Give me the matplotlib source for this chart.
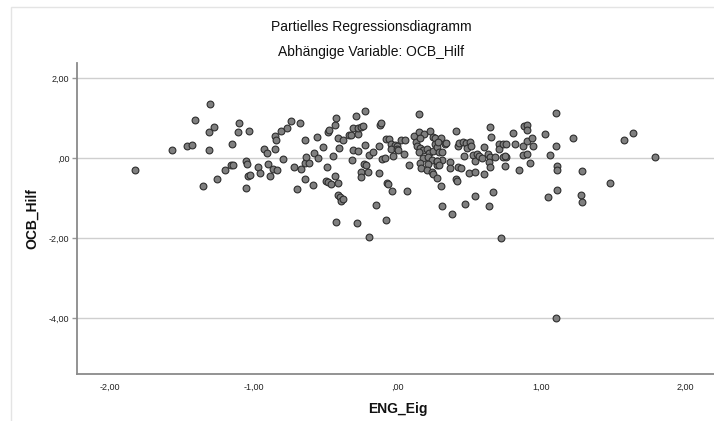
import matplotlib
matplotlib.use("Agg")
import matplotlib.pyplot as plt
from matplotlib.patches import Rectangle
from matplotlib.ticker import FixedLocator, FuncFormatter

# partial regression residuals (ENG_Eig, OCB_Hilf)
eng_eig = [
    -1.823, -1.564, -1.462, -1.429, -1.404, -1.300, -1.307, -1.276, -1.309, -1.349,
    -1.253, -1.198, -1.158, -1.142, -1.147, -1.103, -1.110, -1.033, -1.054, -1.047,
    -1.038, -1.024, -1.054, -0.971, -0.957, -0.925, -0.904, -0.899, -0.883, -0.867,
    -0.839, -0.853, -0.844, -0.849, -0.811, -0.797, -0.767, -0.742,
    -0.679, -0.644, -0.719, -0.670, -0.640, -0.615, -0.635, -0.642, -0.698, -0.589,
    -0.561, -0.578, -0.550, -0.519, -0.490, -0.497, -0.481, -0.464, -0.483, -0.476,
    -0.434, -0.425, -0.450, -0.434, -0.413, -0.406, -0.411, -0.381, -0.411, -0.399,
    -0.392, -0.381, -0.425, -0.339, -0.323, -0.309, -0.290, -0.274, -0.272, -0.253,
    -0.240, -0.228, -0.311, -0.274, -0.314, -0.224, -0.196, -0.168, -0.235, -0.219,
    -0.256, -0.205, -0.253, -0.281, -0.196, -0.147, -0.126,
    -0.122, -0.115, -0.126, -0.106, -0.087, -0.078, -0.071, -0.064, -0.040, 0.064,
    0.080, -0.080, -0.059, -0.043, -0.017, -0.001, -0.043, -0.006, -0.029, 0.006,
    0.026, 0.050, 0.047, 0.149,
    0.113, 0.147, 0.186, 0.224, 0.244, 0.263, 0.304, 0.330, 0.339, 0.126,
    0.156, 0.138, 0.156, 0.179, 0.207, 0.221, 0.244, 0.260, 0.274, 0.290,
    0.309, 0.283, 0.151, 0.175, 0.214, 0.242, 0.272, 0.307, 0.156, 0.163,
    0.214, 0.207, 0.242, 0.272, 0.276, 0.288, 0.249, 0.272, 0.302, 0.307,
    0.365, 0.365, 0.404, 0.418, 0.429, 0.453, 0.478, 0.485, 0.503, 0.513,
    0.464, 0.422, 0.439, 0.406, 0.413, 0.499, 0.540, 0.526, 0.550, 0.536,
    0.566, 0.467, 0.381, 0.540,
    0.601, 0.599, 0.587, 0.626, 0.642, 0.638, 0.642, 0.677, 0.731, 0.753,
    0.747, 0.640, 0.651, 0.707, 0.705, 0.735, 0.753, 0.744, 0.800, 0.818,
    0.844, 0.869, 0.869, 0.876, 0.897, 0.901, 0.901, 0.897, 0.934, 0.943,
    0.920, 1.022, 1.099, 1.099, 1.059, 1.108, 1.106, 1.219, 0.665, 0.633,
    1.045, 1.110, 0.717,
    1.283, 1.276, 1.281, 1.474, 1.573, 1.635, 1.790, 1.100,
]
ocb_hilf = [
    -0.290, 0.215, 0.315, 0.325, 0.958, 1.358, 0.658, 0.783, 0.215, -0.693,
    -0.518, -0.285, -0.175, -0.168, 0.358, 0.890, 0.665, 0.690, -0.060, -0.150,
    -0.443, -0.410, -0.735, -0.218, -0.375, 0.240, 0.125, -0.143, -0.450, -0.275,
    -0.300, 0.558, 0.458, 0.225, 0.675, -0.025, 0.758, 0.925,
    0.883, 0.458, -0.210, -0.275, -0.118, -0.125, 0.025, -0.510, -0.768, -0.668,
    0.525, 0.140, 0.008, 0.290, -0.210, -0.560, -0.600, -0.650, 0.650, 0.708,
    0.833, 1.000, 0.065, -0.435, -0.618, 0.250, 0.515, 0.458, -0.918, -0.968,
    -1.068, -1.025, -1.600, 0.583, 0.583, 0.758, 1.065, 0.608, 0.765, 0.783,
    0.800, 1.183, 0.208, 0.190, -0.050, 0.325, 0.083, 0.150, -0.143, -0.160,
    -0.335, -0.335, -0.460, -1.625, -1.975, -1.175, -0.375,
    0.833, 0.890, 0.308, -0.025, 0.015, -1.550, -0.610, -0.635, -0.810, -0.810,
    -0.175, 0.490, 0.490, 0.350, 0.333, 0.308, 0.240, 0.233, 0.058, 0.208,
    0.465, 0.465, 0.100, 1.108,
    0.565, 0.650, 0.615, 0.690, 0.525, 0.515, 0.500, 0.350, 0.383, 0.415,
    0.500, 0.315, 0.250, 0.208, 0.225, 0.125, 0.190, 0.350, 0.290, 0.150,
    0.165, 0.415, 0.165, 0.000, 0.025, -0.043, -0.060, -0.043, -0.125, -0.235,
    -0.150, -0.293, -0.350, -0.168, -0.068, -0.168, -0.385, -0.485, -0.693, -1.185,
    -0.085, -0.235, 0.683, 0.308, 0.375, 0.415, 0.390, 0.250, 0.400, 0.308,
    0.065, -0.210, -0.235, -0.525, -0.568, -0.375, -0.350, 0.083, 0.100, -0.060,
    0.058, -1.150, -1.393, -0.950,
    -0.385, 0.283, 0.008, 0.108, 0.040, -0.085, -0.225, 0.025, 0.025, 0.033,
    0.065, 0.775, 0.525, 0.358, 0.233, 0.350, 0.350, -0.200, 0.625, 0.358,
    -0.285, 0.308, 0.083, 0.815, 0.840, 0.708, 0.440, 0.108, 0.508, 0.308,
    -0.110, 0.615, 1.140, 0.315, 0.083, -0.185, -0.300, 0.515, -0.843, -1.200,
    -0.968, -0.800, -1.985,
    -0.325, -0.925, -1.100, -0.625, 0.450, 0.633, 0.040, -3.990,
]

x_ticks = [-2, -1, 0, 1, 2]
y_ticks = [-4, -2, 0, 2]


def spss_fmt(v, pos=None):
    # SPSS style: comma decimal, no leading zero for 0
    s = "{0:.2f}".format(v).replace(".", ",")
    if s in ("0,00", "-0,00"):
        return ",00"
    return s


plt.rcParams['font.family'] = ['Liberation Sans', 'DejaVu Sans']

fig = plt.figure(figsize=(7.14, 4.21), dpi=100)
fig.patch.set_facecolor('white')

# light outer frame of the SPSS chart
fig.patches.append(Rectangle((11 / 714, -0.05), 1.2, 1 - 7 / 421 + 0.05,
                             transform=fig.transFigure, fill=False,
                             edgecolor='#e4e4e4', linewidth=1.0))

ax = fig.add_axes([76.5 / 714, 47 / 421, 642 / 714, 311 / 421])
ax.set_xlim(-2.229, 2.229)
ax.set_ylim(-5.39, 2.38)

ax.xaxis.set_major_locator(FixedLocator(x_ticks))
ax.yaxis.set_major_locator(FixedLocator(y_ticks))
ax.xaxis.set_major_formatter(FuncFormatter(spss_fmt))
ax.yaxis.set_major_formatter(FuncFormatter(spss_fmt))

ax.yaxis.grid(True, color='#cfcfcf', linewidth=1.0)
ax.set_axisbelow(True)

for side in ('top', 'right'):
    ax.spines[side].set_visible(False)
for side in ('left', 'bottom'):
    ax.spines[side].set_color('#8a8a8a')
    ax.spines[side].set_linewidth(1.3)

ax.tick_params(axis='y', length=3.5, width=1.0, color='#9a9a9a', labelsize=6.5,
               labelcolor='#222222', pad=1.5)
ax.tick_params(axis='x', length=0, labelsize=6.5, labelcolor='#222222', pad=6)

ax.scatter(eng_eig, ocb_hilf, s=24, facecolor='#7f7f7f', edgecolor='#2e2e2e',
           linewidth=0.8, zorder=3)

ax.set_xlabel('ENG_Eig', fontsize=10, fontweight='bold', color='#111111', labelpad=8)
ax.set_ylabel('OCB_Hilf', fontsize=10, fontweight='bold', color='#111111', labelpad=7)

fig.text(371 / 714, 1 - 27 / 421, 'Partielles Regressionsdiagramm', ha='center',
         va='center', fontsize=10, color='#111111')
fig.text(371 / 714, 1 - 52 / 421, 'Abhängige Variable: OCB_Hilf', ha='center',
         va='center', fontsize=10, color='#111111')

fig.savefig('out.png', dpi=100, facecolor='white')
